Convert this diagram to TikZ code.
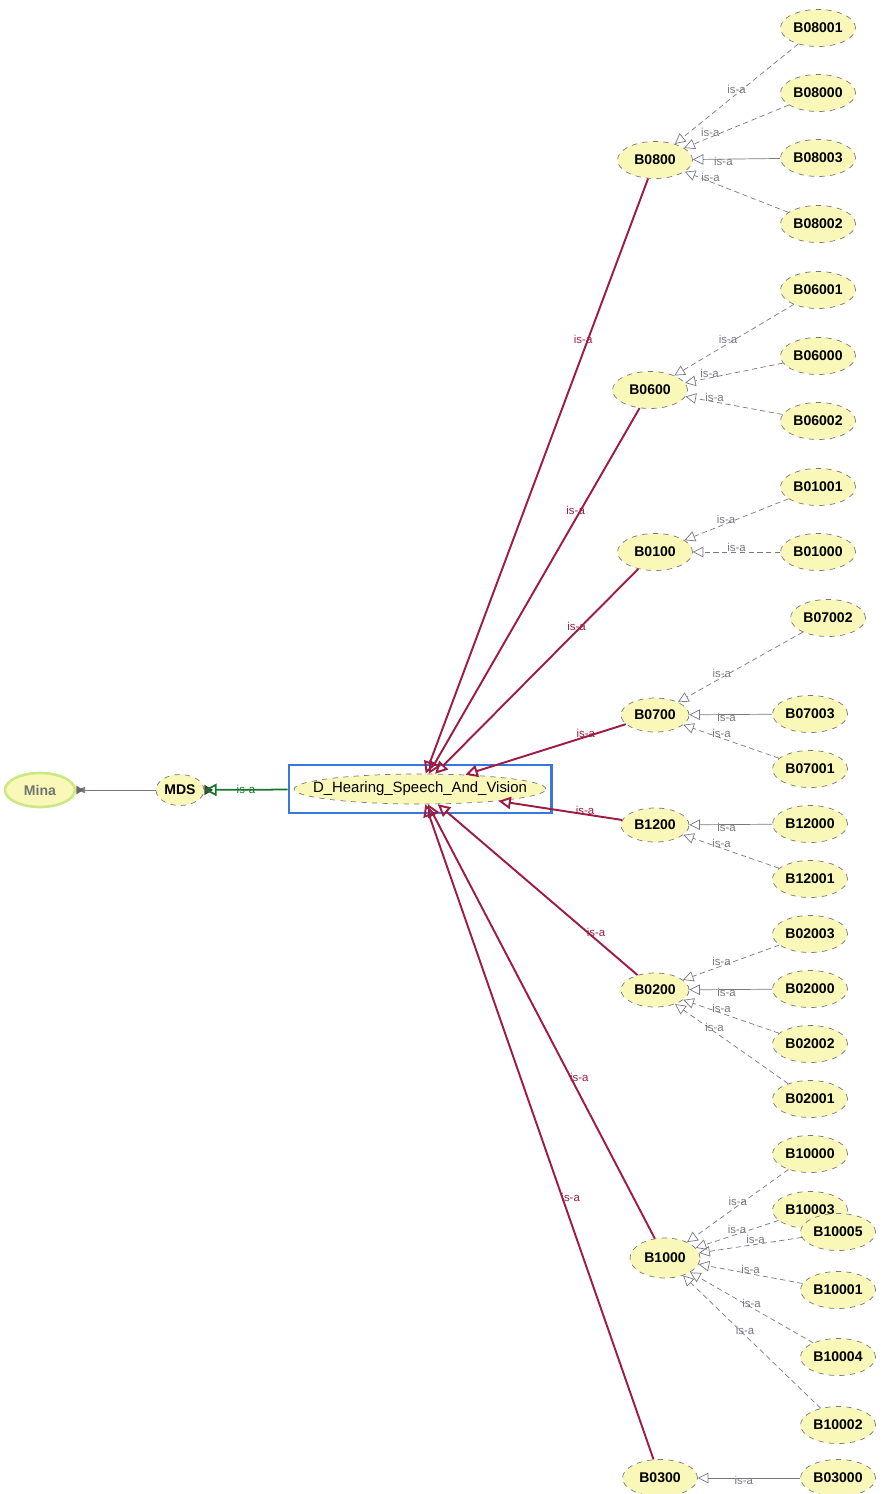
\documentclass[tikz,border=0pt]{standalone}
\usepackage{fontspec}
\setmainfont{Liberation Sans}
\usetikzlibrary{shapes.geometric, arrows.meta, fit}
\definecolor{nodeyel}{RGB}{250,248,184}
\definecolor{isared}{RGB}{158,28,68}
\definecolor{isagray}{RGB}{120,120,130}
\definecolor{selblue}{RGB}{58,118,222}
\definecolor{mdsgreen}{RGB}{24,118,44}

\begin{document}
\begin{tikzpicture}[x=0.02cm, y=-0.02cm,
  cls/.style={ellipse, draw=isagray, dashed, fill=nodeyel, minimum width=1.5cm, minimum height=0.74cm, inner sep=0pt, font=\fontsize{8}{9}\selectfont\bfseries},
  redge/.style={isared, line width=1.1pt, -{Triangle[open, length=7pt, width=7pt]}},
  gedge/.style={isagray, densely dashed, thin, -{Triangle[open, length=6pt, width=6pt]}},
  sedge/.style={isagray, thin, -{Triangle[open, length=6pt, width=6pt]}},
  rlab/.style={font=\fontsize{6.5}{7}\selectfont, text=isared, inner sep=1pt},
  glab/.style={font=\fontsize{6.5}{7}\selectfont, text=isagray, inner sep=1pt, pos=.6, above=-1pt}]
\path[use as bounding box, clip] (0,0) rectangle (881,1494);

\node[cls, draw=yellow!60!green!50, solid, line width=1.5pt, minimum width=1.4cm, minimum height=0.68cm, text=black!55] at (40,790) (mina) {Mina};
\node[cls, minimum width=0.96cm, minimum height=0.62cm] at (180,790) (mds) {MDS};
\node[cls, font=\fontsize{8.5}{10}\selectfont, minimum width=5cm, minimum height=0.6cm, inner xsep=-0.36cm] at (420,789) (ctr) {D\_Hearing\_Speech\_And\_Vision};
\node[fit=(ctr), draw=selblue, line width=1.2pt, inner xsep=3pt, inner ysep=5pt] (sel) {};

\node[cls] at (655,160) (b0800) {B0800};
\node[cls] at (818,28) (b08001) {B08001};
\node[cls] at (818,93) (b08000) {B08000};
\node[cls] at (818,158) (b08003) {B08003};
\node[cls] at (818,224) (b08002) {B08002};

\node[cls] at (650,390) (b0600) {B0600};
\node[cls] at (818,290) (b06001) {B06001};
\node[cls] at (818,356) (b06000) {B06000};
\node[cls] at (818,421) (b06002) {B06002};

\node[cls] at (655,552) (b0100) {B0100};
\node[cls] at (818,487) (b01001) {B01001};
\node[cls] at (818,552) (b01000) {B01000};

\node[cls, minimum width=1.36cm, minimum height=0.68cm] at (655,715) (b0700) {B0700};
\node[cls] at (828,618) (b07002) {B07002};
\node[cls] at (810,714) (b07003) {B07003};
\node[cls] at (810,769) (b07001) {B07001};

\node[cls, minimum width=1.36cm, minimum height=0.68cm] at (655,825) (b1200) {B1200};
\node[cls] at (810,824) (b12000) {B12000};
\node[cls] at (810,879) (b12001) {B12001};

\node[cls, minimum width=1.36cm, minimum height=0.68cm] at (655,990) (b0200) {B0200};
\node[cls] at (810,934) (b02003) {B02003};
\node[cls] at (810,989) (b02000) {B02000};
\node[cls] at (810,1044) (b02002) {B02002};
\node[cls] at (810,1099) (b02001) {B02001};

\node[cls, minimum width=1.4cm, minimum height=0.8cm] at (665,1258) (b1000) {B1000};
\node[cls] at (810,1154) (b10000) {B10000};
\node[cls] at (810,1210) (b10003) {B10003};
\node[cls] at (838,1232) (b10005) {B10005};
\node[cls] at (838,1290) (b10001) {B10001};
\node[cls] at (838,1357) (b10004) {B10004};
\node[cls] at (838,1425) (b10002) {B10002};

\node[cls] at (660,1478) (b0300) {B0300};
\node[cls] at (838,1478) (b03000) {B03000};

\draw[isagray, thin, -{Latex[length=5pt]}] (mds) -- (mina);
\fill[black!60] ([yshift=2.5pt]mina.east) -- ++(0,-5pt) -- ++(4pt,2.5pt) -- cycle;
\fill[black!75] ([yshift=3pt]mds.east) -- ++(0,-6pt) -- ++(5pt,3pt) -- cycle;
\draw[mdsgreen, line width=1pt, -{Triangle[open, length=7pt, width=7pt]}] (sel) -- (mds) node[midway, font=\fontsize{6.5}{7}\selectfont, inner sep=1pt] {is-a};

\draw[redge] (b0800) -- (ctr) node[rlab, pos=.27, left=-4pt] {is-a};
\draw[redge] (b0600) -- (ctr) node[rlab, pos=.28, left=-4pt] {is-a};
\draw[redge] (b0100) -- (ctr) node[rlab, pos=.28, left=-4pt] {is-a};
\draw[redge] (b0700) -- (ctr) node[rlab, pos=.25, above=-2pt] {is-a};
\draw[redge] (b1200) -- (ctr) node[rlab, pos=.3, above=-2pt] {is-a};
\draw[redge] (b0200) -- (ctr) node[rlab, pos=.25, right=-2pt] {is-a};
\draw[redge] (b1000) -- (ctr) node[rlab, pos=.37, right=-2pt] {is-a};
\draw[redge] (b0300) -- (ctr) node[rlab, pos=.4, right=-2pt] {is-a};

\draw[gedge] (b08001) -- (b0800) node[glab, pos=.5] {is-a};
\draw[gedge] (b08000) -- (b0800) node[glab, pos=.75] {is-a};
\draw[sedge] (b08003) -- (b0800) node[glab, pos=.65, above=-4pt] {is-a};
\draw[gedge] (b08002) -- (b0800) node[glab, pos=.75] {is-a};

\draw[gedge] (b06001) -- (b0600) node[glab, pos=.55] {is-a};
\draw[gedge] (b06000) -- (b0600) node[glab, pos=.75] {is-a};
\draw[gedge] (b06002) -- (b0600) node[glab, pos=.7] {is-a};

\draw[gedge] (b01001) -- (b0100) node[glab, pos=.6] {is-a};
\draw[gedge] (b01000) -- (b0100) node[glab, pos=.5] {is-a};

\draw[gedge] (b07002) -- (b0700) node[glab, pos=.65] {is-a};
\draw[sedge] (b07003) -- (b0700) node[glab, pos=.55, above=-4pt] {is-a};
\draw[gedge] (b07001) -- (b0700) node[glab, pos=.6] {is-a};

\draw[sedge] (b12000) -- (b1200) node[glab, pos=.55, above=-4pt] {is-a};
\draw[gedge] (b12001) -- (b1200) node[glab, pos=.6] {is-a};

\draw[gedge] (b02003) -- (b0200) node[glab] {is-a};
\draw[sedge] (b02000) -- (b0200) node[glab, pos=.55, above=-4pt] {is-a};
\draw[gedge] (b02002) -- (b0200) node[glab] {is-a};
\draw[gedge] (b02001) -- (b0200) node[glab, pos=.65] {is-a};

\draw[gedge] (b10000) -- (b1000) node[glab, pos=.5] {is-a};
\draw[gedge] (b10003) -- (b1000) node[glab, pos=.5] {is-a};
\draw[gedge] (b10005) -- (b1000) node[glab, pos=.45] {is-a};
\draw[gedge] (b10001) -- (b1000) node[glab, pos=.5] {is-a};
\draw[gedge] (b10004) -- (b1000) node[glab, pos=.5] {is-a};
\draw[gedge] (b10002) -- (b1000) node[glab, pos=.55] {is-a};

\draw[sedge] (b03000) -- (b0300) node[glab, pos=.55, above=-4pt] {is-a};
\end{tikzpicture}
\end{document}
